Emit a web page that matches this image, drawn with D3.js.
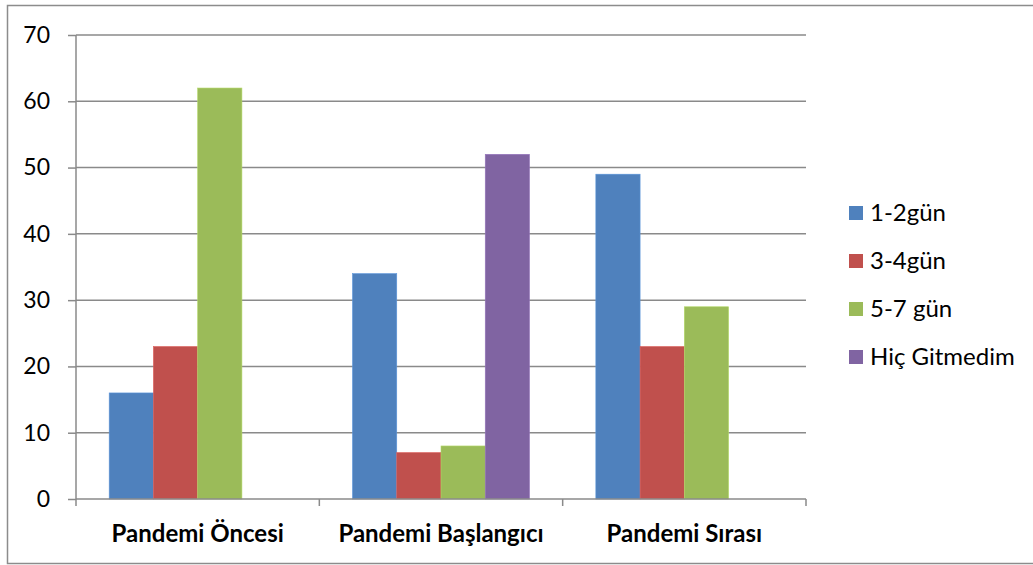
<!DOCTYPE html>
<html>
<head>
<meta charset="utf-8">
<script src="https://cdn.jsdelivr.net/npm/d3@7"></script>
<style>
  body { margin: 0; background: #fff; }
  svg { display: block; font-family: Lato, "Open Sans", sans-serif; }
</style>
</head>
<body>
<div id="chart"></div>
<script>
const categories = ["Pandemi Öncesi", "Pandemi Başlangıcı", "Pandemi Sırası"];
const seriesNames = ["1-2gün", "3-4gün", "5-7 gün", "Hiç Gitmedim"];
const seriesColors = ["#4F81BD", "#C0504D", "#9BBB59", "#8064A2"];
const gun12 = [16, 34, 49];
const gun34 = [23, 7, 23];
const gun57 = [62, 8, 29];
const hicGitmedim = [0, 52, 0];
const yTicks = [0, 10, 20, 30, 40, 50, 60, 70];

const seriesValues = [gun12, gun34, gun57, hicGitmedim];

const W = 1033, H = 565;
const margin = {top: 35, right: 227, bottom: 66, left: 76};
const width = W - margin.left - margin.right;
const height = H - margin.top - margin.bottom;

const root = d3.select("#chart").append("svg")
    .attr("width", W)
    .attr("height", H);

// outer chart border
root.append("rect")
    .attr("x", 7.5).attr("y", 5.5)
    .attr("width", W + 10).attr("height", 558)
    .attr("fill", "none")
    .attr("stroke", "#8c8c8c")
    .attr("stroke-width", 1.5);

const svg = root.append("g")
    .attr("transform", `translate(${margin.left},${margin.top})`);

const x0 = d3.scaleBand()
    .domain(categories)
    .range([0, width])
    .padding(0);

// Excel gap width 150%: each bar = band / 5.5, group centered
const barW = x0.bandwidth() / 5.5;
const groupOffset = (x0.bandwidth() - barW * 4) / 2;

const y = d3.scaleLinear()
    .domain([0, 70])
    .range([height, 0]);

// gridlines
svg.append("g")
    .selectAll("line")
    .data(yTicks.slice(1))
    .enter().append("line")
    .attr("x1", 0).attr("x2", width)
    .attr("y1", d => y(d)).attr("y2", d => y(d))
    .attr("stroke", "#8a8a8a")
    .attr("stroke-width", 1.5);

// bars
categories.forEach((cat, ci) => {
    seriesValues.forEach((vals, si) => {
        const v = vals[ci];
        if (!v) return;
        svg.append("rect")
            .attr("x", x0(cat) + groupOffset + si * barW)
            .attr("y", y(v))
            .attr("width", barW)
            .attr("height", height - y(v))
            .attr("fill", seriesColors[si])
            .attr("stroke", d3.color(seriesColors[si]).brighter(0.4))
            .attr("stroke-width", 0.6);
    });
});

// y axis
const yAxis = svg.append("g")
    .call(d3.axisLeft(y).tickValues(yTicks).tickSize(8).tickPadding(18));
yAxis.select(".domain").attr("stroke", "#8a8a8a").attr("stroke-width", 1.5)
    .attr("d", `M0,0V${height}`);
yAxis.selectAll(".tick line").attr("stroke", "#8a8a8a").attr("stroke-width", 1.5);
yAxis.selectAll("text").attr("font-size", 23).attr("fill", "#000")
    .style("font-family", "Lato, 'Open Sans', sans-serif");

// x axis
const xAxis = svg.append("g")
    .attr("transform", `translate(0,${height})`)
    .call(d3.axisBottom(x0).tickSize(0).tickPadding(26));
xAxis.select(".domain").attr("stroke", "#8a8a8a").attr("stroke-width", 1.5)
    .attr("d", `M0,0H${width}`);
xAxis.selectAll("text").attr("font-size", 24).attr("font-weight", "bold").attr("fill", "#000")
    .style("font-family", "Lato, 'Open Sans', sans-serif");

// category boundary ticks
const bounds = categories.map(c => x0(c)).concat([width]);
xAxis.selectAll(".bound")
    .data(bounds)
    .enter().append("line")
    .attr("class", "bound")
    .attr("x1", d => d).attr("x2", d => d)
    .attr("y1", 0).attr("y2", 7)
    .attr("stroke", "#8a8a8a")
    .attr("stroke-width", 1.5);

// legend
const legend = root.append("g")
    .attr("transform", "translate(849,206)");
seriesNames.forEach((name, i) => {
    const g = legend.append("g").attr("transform", `translate(0,${i * 48})`);
    g.append("rect")
        .attr("width", 14).attr("height", 14)
        .attr("fill", seriesColors[i]);
    g.append("text")
        .attr("x", 21).attr("y", 7)
        .attr("dy", "0.35em")
        .attr("font-size", 24)
        .attr("fill", "#000")
        .text(name);
});
</script>
</body>
</html>
